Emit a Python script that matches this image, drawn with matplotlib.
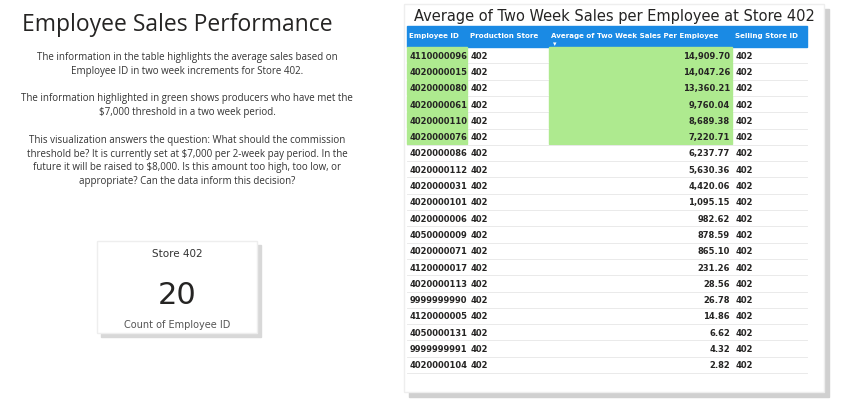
import matplotlib.pyplot as plt
from matplotlib.patches import Rectangle

employee_ids = ['4110000096', '4020000015', '4020000080', '4020000061', '4020000110',
                '4020000076', '4020000086', '4020000112', '4020000031', '4020000101',
                '4020000006', '4050000009', '4020000071', '4120000017', '4020000113',
                '9999999990', '4120000005', '4050000131', '9999999991', '4020000104']
avg_sales = [14909.70, 14047.26, 13360.21, 9760.04, 8689.38, 7220.71, 6237.77, 5630.36,
             4420.06, 1095.15, 982.62, 878.59, 865.10, 231.26, 28.56, 26.78, 14.86,
             6.62, 4.32, 2.82]
store = '402'
threshold = 7000
headers = ['Employee ID', 'Production Store', 'Average of Two Week Sales Per Employee', 'Selling Store ID']

fig = plt.figure(figsize=(8.47, 4.10), dpi=100)
ax = fig.add_axes([0, 0, 1, 1])
ax.set_xlim(0, 847)
ax.set_ylim(410, 0)
ax.axis('off')

# left text
ax.text(177, 25, 'Employee Sales Performance', fontsize=16.5, ha='center', va='center',
        color='#252423', family='Open Sans')
para = ("The information in the table highlights the average sales based on\n"
        "Employee ID in two week increments for Store 402.\n\n"
        "The information highlighted in green shows producers who have met the\n"
        "$7,000 threshold in a two week period.\n\n"
        "This visualization answers the question: What should the commission\n"
        "threshold be? It is currently set at $7,000 per 2-week pay period. In the\n"
        "future it will be raised to $8,000. Is this amount too high, too low, or\n"
        "appropriate? Can the data inform this decision?")
ax.text(187, 52, para, fontsize=7, ha='center', va='top', color='#333333',
        linespacing=1.35, family='Open Sans')

# card
ax.add_patch(Rectangle((101, 246), 160, 92, color='#d8d8d8', zorder=1))
ax.add_patch(Rectangle((97, 242), 160, 92, facecolor='white', edgecolor='#eeeeee', zorder=2))
ax.text(177, 254, 'Store 402', fontsize=7.5, ha='center', va='center', color='#333333', zorder=3)
ax.text(177, 296, str(len(employee_ids)), fontsize=22, ha='center', va='center', color='#252423', zorder=3)
ax.text(177, 325, 'Count of Employee ID', fontsize=7, ha='center', va='center', color='#555555', zorder=3)

# table panel
ax.add_patch(Rectangle((409, 10), 420, 388, color='#d0d0d0', zorder=1))
ax.add_patch(Rectangle((404, 5), 420, 388, facecolor='white', edgecolor='#eeeeee', zorder=2))
ax.text(614, 16, 'Average of Two Week Sales per Employee at Store 402', fontsize=10.5,
        ha='center', va='center', color='#252423', zorder=3)

col_x = [407, 468, 549, 733, 807]
top, hh, rh = 27, 21, 16.3
ax.add_patch(Rectangle((col_x[0], top), col_x[-1] - col_x[0], hh, color='#1A8AE4', zorder=3))
for i, h in enumerate(headers):
    ax.text(col_x[i] + 2, top + 9, h, fontsize=5.1, fontweight='bold', color='white',
            va='center', ha='left', zorder=4)
ax.text(553, top + 17, '▾', fontsize=5, color='white', va='center', zorder=4)

green = '#AEEA8F'
for r, (eid, v) in enumerate(zip(employee_ids, avg_sales)):
    y0 = top + hh + r * rh
    yc = y0 + rh / 2
    if v >= threshold:
        ax.add_patch(Rectangle((col_x[0], y0), col_x[1] - col_x[0] - 1, rh - 1, color=green, zorder=3))
        ax.add_patch(Rectangle((col_x[2], y0), col_x[3] - col_x[2] - 1, rh - 1, color=green, zorder=3))
    ax.plot([col_x[0], col_x[-1]], [y0 + rh, y0 + rh], color='#e6e6e6', lw=0.6, zorder=3)
    ax.text(col_x[0] + 3, yc, eid, fontsize=6, fontweight='bold', color='#252423', va='center', zorder=4)
    ax.text(col_x[1] + 3, yc, store, fontsize=6, fontweight='bold', color='#252423', va='center', zorder=4)
    ax.text(col_x[3] - 3, yc, f'{v:,.2f}', fontsize=6, fontweight='bold', color='#252423',
            va='center', ha='right', zorder=4)
    ax.text(col_x[3] + 3, yc, store, fontsize=6, fontweight='bold', color='#252423', va='center', zorder=4)

fig.savefig('out.png', dpi=100)
